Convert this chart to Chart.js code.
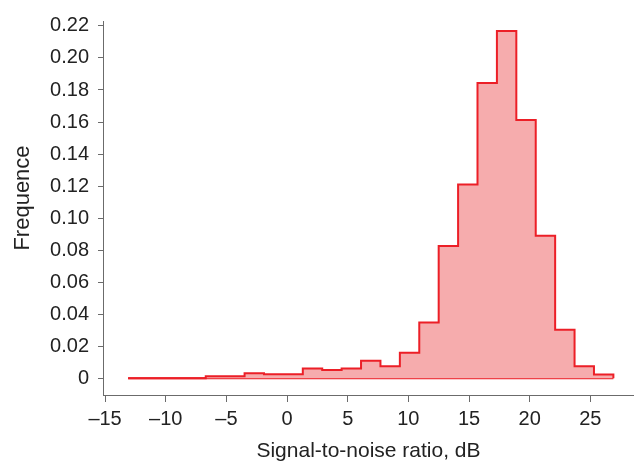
<!DOCTYPE html>
<html>
<head>
<meta charset="utf-8">
<script src="https://cdn.jsdelivr.net/npm/chart.js@4/dist/chart.umd.min.js"></script>
<style>
  html, body { margin: 0; padding: 0; background: #fff; }
  #wrap { width: 634px; height: 464px; }
</style>
</head>
<body>
<div id="wrap"><canvas id="chart" width="634" height="464"></canvas></div>
<script>
// Histogram bin edges (dB) and the relative frequency of each bin
const binEdges = [-13.1, -11.5, -9.9, -8.3, -6.7, -5.1, -3.5, -1.9, -0.3, 1.3,
                  2.9, 4.5, 6.1, 7.7, 9.3, 10.9, 12.5, 14.1, 15.7, 17.3,
                  18.9, 20.5, 22.1, 23.7, 25.3, 26.9];
const frequencies = [0, 0, 0, 0, 0.0012, 0.0012, 0.0031, 0.0025, 0.0025, 0.0060,
                     0.0050, 0.0060, 0.0108, 0.0074, 0.0159, 0.0347, 0.0826, 0.1210, 0.1843, 0.2168,
                     0.1612, 0.0889, 0.0302, 0.0074, 0.0023];
const xTicks = [-15, -10, -5, 0, 5, 10, 15, 20, 25];
const yTicks = [0, 0.02, 0.04, 0.06, 0.08, 0.10, 0.12, 0.14, 0.16, 0.18, 0.20, 0.22];

// Step outline: each bin's value holds from its left edge to the next edge,
// then the outline drops back to zero at the last edge.
const stepPoints = frequencies.map((f, i) => ({ x: binEdges[i], y: f }));
stepPoints.push({ x: binEdges[binEdges.length - 1], y: frequencies[frequencies.length - 1] });
stepPoints.push({ x: binEdges[binEdges.length - 1], y: 0 });

const basePoints = [
  { x: binEdges[0], y: 0 },
  { x: binEdges[binEdges.length - 1], y: 0 }
];

const RED = '#ec1f27';
const FILL = '#f6acad';
const AXIS = '#6b6b6b';
const TEXT = '#222222';
const FONT = 'Liberation Sans, Arial, Helvetica, sans-serif';

// Vertical axis title, drawn a little above the middle of the axis
const yTitlePlugin = {
  id: 'yTitle',
  afterDraw(chart) {
    const ctx = chart.ctx;
    const area = chart.chartArea;
    ctx.save();
    ctx.translate(23, (area.top + area.bottom) / 2 - 10);
    ctx.rotate(-Math.PI / 2);
    ctx.font = '22px ' + FONT;
    ctx.fillStyle = TEXT;
    ctx.textAlign = 'center';
    ctx.textBaseline = 'middle';
    ctx.fillText('Frequence', 0, 0);
    ctx.restore();
  }
};

new Chart(document.getElementById('chart'), {
  type: 'line',
  data: {
    datasets: [
      {
        data: stepPoints,
        stepped: 'before',
        fill: 'origin',
        backgroundColor: FILL,
        borderColor: RED,
        borderWidth: 2,
        pointRadius: 0,
        tension: 0
      },
      {
        data: basePoints,
        fill: false,
        borderColor: RED,
        borderWidth: 2,
        pointRadius: 0
      }
    ]
  },
  plugins: [yTitlePlugin],
  options: {
    responsive: false,
    animation: false,
    devicePixelRatio: 1,
    layout: { padding: { top: 18, right: 0, bottom: 0, left: 0 } },
    plugins: { legend: { display: false }, tooltip: { enabled: false } },
    scales: {
      x: {
        type: 'linear',
        min: -15.17,
        max: 28.6,
        afterBuildTicks: s => { s.ticks = xTicks.map(v => ({ value: v })); },
        afterFit: s => { s.height = 69; },
        ticks: {
          autoSkip: false,
          maxRotation: 0,
          padding: 5,
          color: TEXT,
          font: { family: FONT, size: 20 },
          callback: v => (v < 0 ? '\u2013' + Math.abs(v) : String(v))
        },
        grid: { drawOnChartArea: false, drawTicks: true, tickLength: 7, color: AXIS, lineWidth: 1 },
        border: { display: true, color: AXIS, width: 1 },
        title: {
          display: true,
          text: 'Signal-to-noise ratio, dB',
          color: TEXT,
          font: { family: FONT, size: 21 },
          padding: { top: 0, bottom: 0 }
        }
      },
      y: {
        type: 'linear',
        min: -0.01054,
        max: 0.2231,
        afterBuildTicks: s => { s.ticks = yTicks.map(v => ({ value: v })); },
        afterFit: s => { s.width = 103; },
        ticks: {
          autoSkip: false,
          padding: 9,
          color: TEXT,
          font: { family: FONT, size: 20 },
          callback: v => (v === 0 ? '0' : v.toFixed(2))
        },
        grid: { drawOnChartArea: false, drawTicks: true, tickLength: 5, color: AXIS, lineWidth: 1 },
        border: { display: true, color: AXIS, width: 1 },
        title: { display: false }
      }
    }
  }
});
</script>
</body>
</html>
